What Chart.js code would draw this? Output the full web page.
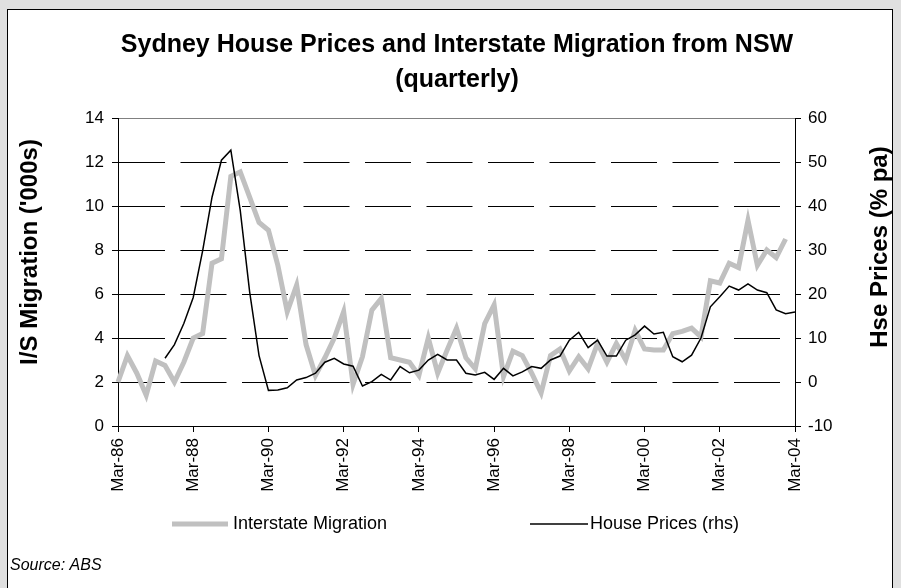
<!DOCTYPE html>
<html lang="en">
<head>
    <meta charset="UTF-8">
    <title>Sydney House Prices and Interstate Migration from NSW</title>
    <script src="https://cdn.jsdelivr.net/npm/chart.js"></script>
    <style>
        html, body { margin: 0; padding: 0; background: #e0e0e0; overflow: hidden; }
        #panel { position: absolute; left: 7px; top: 9px; width: 884px; height: 600px; background: #fff; border: 1px solid #000; }
        #wrap { position: absolute; left: 0; top: 0; width: 901px; height: 588px; }
    </style>
</head>
<body>
    <div id="panel"></div>
    <div id="wrap"><canvas id="grafico" width="901" height="588"></canvas></div>

    <script>
        // quarters Mar-86 .. Mar-04
        const years = ['86','87','88','89','90','91','92','93','94','95','96','97','98','99','00','01','02','03','04'];
        const months = ['Mar','Jun','Sep','Dec'];
        const quarters = [];
        years.forEach(y => months.forEach(m => quarters.push(m + '-' + y)));
        quarters.length = 73;

        const tickLabels = ['Mar-86','Mar-88','Mar-90','Mar-92','Mar-94','Mar-96','Mar-98','Mar-00','Mar-02','Mar-04'];

        // interstate migration ('000s), left axis
        const migration = [
            2.0, 3.2, 2.4, 1.4, 2.95, 2.75, 2.0, 2.9,
            4.0, 4.2, 7.4, 7.6, 11.35, 11.55, 10.4, 9.25,
            8.9, 7.3, 5.2, 6.4, 3.7, 2.3, 3.1, 4.0,
            5.2, 1.9, 3.15, 5.27, 5.8, 3.1, 3.0, 2.9,
            2.3, 4.0, 2.4, 3.45, 4.45, 3.1, 2.6, 4.65,
            5.5, 2.25, 3.4, 3.2, 2.4, 1.5, 3.2, 3.5,
            2.5, 3.15, 2.6, 3.75, 2.9, 3.75, 3.0, 4.35,
            3.5, 3.45, 3.45, 4.2, 4.3, 4.45, 4.05, 6.6,
            6.5, 7.4, 7.2, 9.35, 7.3, 8.0, 7.65, 8.5
        ];

        // house prices (% pa), right axis
        const housePrices = [
            null, null, null, null, null, 5.4, 8.5, 13.3,
            19.2, 29.8, 42.0, 50.4, 52.7, 39.0, 20.5, 6.0,
            -1.9, -1.8, -1.3, 0.45, 1.0, 2.0, 4.5, 5.4,
            4.1, 3.6, -0.9, 0.1, 1.75, 0.45, 3.5, 2.1,
            2.7, 5.0, 6.3, 5.0, 5.0, 2.0, 1.6, 2.2,
            0.6, 3.1, 1.4, 2.3, 3.5, 3.1, 5.0, 5.9,
            9.5, 11.3, 7.8, 9.5, 5.9, 5.9, 9.5, 10.7,
            12.7, 10.9, 11.3, 5.75, 4.6, 6.1, 10.0, 17.1,
            19.4, 21.8, 20.9, 22.3, 20.9, 20.3, 16.4, 15.5,
            15.9
        ];

        const fuente = 'Arial, "Liberation Sans", sans-serif';

        // texts, legend, plot border
        const decoracion = {
            id: 'decoracion',
            beforeDraw(chart) {
                const { ctx, chartArea: a } = chart;
                ctx.save();
                ctx.strokeStyle = '#808080';
                ctx.lineWidth = 1;
                ctx.strokeRect(a.left + 0.5, a.top + 0.5, a.right - a.left, a.bottom - a.top);
                ctx.restore();
            },
            afterDraw(chart) {
                const ctx = chart.ctx;
                ctx.save();
                ctx.fillStyle = '#000';
                ctx.textAlign = 'center';
                ctx.textBaseline = 'middle';
                ctx.font = 'bold 25px ' + fuente;
                ctx.fillText('Sydney House Prices and Interstate Migration from NSW', 457, 45);
                ctx.fillText('(quarterly)', 457, 80);

                ctx.font = 'bold 24px ' + fuente;
                ctx.save();
                ctx.translate(30, 252);
                ctx.rotate(-Math.PI / 2);
                ctx.fillText("I/S Migration ('000s)", 0, 0);
                ctx.restore();
                ctx.save();
                ctx.translate(880, 247);
                ctx.rotate(-Math.PI / 2);
                ctx.fillText('Hse Prices (% pa)', 0, 0);
                ctx.restore();

                // legend
                ctx.textAlign = 'left';
                ctx.font = '18px ' + fuente;
                ctx.lineCap = 'butt';
                ctx.strokeStyle = '#c0c0c0';
                ctx.lineWidth = 5;
                ctx.beginPath(); ctx.moveTo(172, 524); ctx.lineTo(228, 524); ctx.stroke();
                ctx.fillText('Interstate Migration', 233, 524);
                ctx.strokeStyle = '#000';
                ctx.lineWidth = 1.5;
                ctx.beginPath(); ctx.moveTo(530, 524); ctx.lineTo(588, 524); ctx.stroke();
                ctx.fillText('House Prices (rhs)', 590, 524);

                ctx.font = 'italic 16px ' + fuente;
                ctx.fillText('Source: ABS', 10, 566);
                ctx.restore();
            }
        };

        const ctx = document.getElementById('grafico').getContext('2d');
        new Chart(ctx, {
            type: 'line',
            data: {
                labels: quarters,
                datasets: [{
                    label: 'House Prices (rhs)',
                    data: housePrices,
                    yAxisID: 'y2',
                    borderColor: '#000',
                    borderWidth: 1.5,
                    pointRadius: 0,
                    tension: 0,
                    fill: false,
                    spanGaps: false
                }, {
                    label: 'Interstate Migration',
                    data: migration,
                    yAxisID: 'y',
                    borderColor: '#c0c0c0',
                    borderWidth: 5,
                    pointRadius: 0,
                    tension: 0,
                    fill: false
                }]
            },
            options: {
                responsive: false,
                animation: false,
                events: [],
                layout: { padding: { top: 118, left: 0, right: 0, bottom: 0 } },
                plugins: {
                    legend: { display: false },
                    title: { display: false },
                    tooltip: { enabled: false }
                },
                scales: {
                    x: {
                        offset: false,
                        afterFit: s => { s.height = 162; },
                        grid: { drawOnChartArea: false, drawTicks: true, tickLength: 6, tickColor: '#000', color: '#000' },
                        border: { color: '#000', width: 1 },
                        ticks: {
                            autoSkip: false,
                            maxRotation: 90,
                            minRotation: 90,
                            padding: 6,
                            color: '#000',
                            font: { family: fuente, size: 17 },
                            callback: function (value, index) {
                                const lab = quarters[index];
                                return tickLabels.includes(lab) ? lab : null;
                            }
                        }
                    },
                    y: {
                        position: 'left',
                        min: 0,
                        max: 14,
                        afterFit: s => { s.width = 118; },
                        grid: {
                            color: c => (c.tick.value === 0 || c.tick.value === 14) ? 'rgba(0,0,0,0)' : '#000',
                            lineWidth: 1,
                            tickLength: 6,
                            tickColor: '#000'
                        },
                        border: { color: '#000', width: 1, dash: [46, 15.5] },
                        ticks: { stepSize: 2, padding: 8, color: '#000', font: { family: fuente, size: 17 } }
                    },
                    y2: {
                        position: 'right',
                        min: -10,
                        max: 60,
                        afterFit: s => { s.width = 106; },
                        grid: { drawOnChartArea: false, tickLength: 6, tickColor: '#000', color: '#000' },
                        border: { color: '#000', width: 1 },
                        ticks: { stepSize: 10, padding: 7, color: '#000', font: { family: fuente, size: 17 } }
                    }
                }
            },
            plugins: [decoracion]
        });
    </script>
</body>
</html>
